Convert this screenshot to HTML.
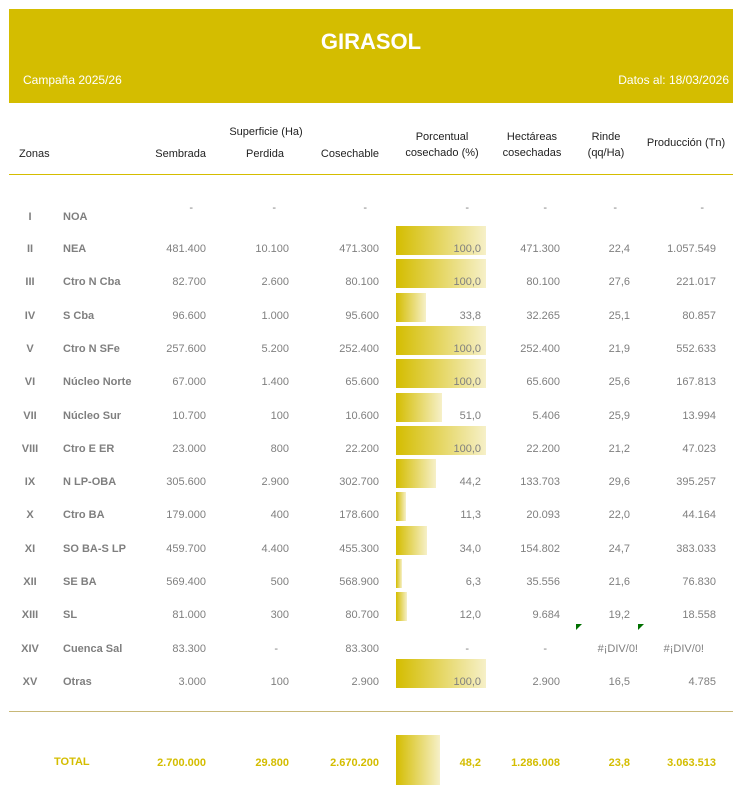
<!DOCTYPE html>
<html><head><meta charset="utf-8"><style>
body{margin:0;width:739px;height:785px;background:#fff;position:relative;font-family:"Liberation Sans",sans-serif;overflow:hidden}
.b{position:absolute;left:9px;top:9px;width:724px;height:94px;background:#d4bd00;color:#fff}
.t{position:absolute;white-space:nowrap;font-size:11px;color:#7f7f7f;line-height:12px}
.h{color:#222}
.r{text-align:right}
.c{text-align:center}
.z{font-weight:bold}
.bar{position:absolute;left:396px;height:29px;background:linear-gradient(90deg,#d4bd00,#f6f0c8)}
.ln{position:absolute;left:9px;width:724px;height:1px}
.y{color:#d4bd00;font-weight:bold}
.tri{position:absolute;width:0;height:0;border-top:6px solid #007000;border-right:6px solid transparent}
</style></head><body>
<div class="b">
<div style="position:absolute;left:0;width:724px;top:20px;text-align:center;font-size:22px;font-weight:bold">GIRASOL</div>
<div style="position:absolute;left:14px;top:64px;font-size:12px">Campaña 2025/26</div>
<div style="position:absolute;right:4px;top:64px;font-size:12px">Datos al: 18/03/2026</div>
</div>
<div class="t h" style="left:19px;top:148px">Zonas</div>
<div class="t h c" style="left:216px;width:100px;top:126px">Superficie (Ha)</div>
<div class="t h r" style="left:100px;width:106px;top:148px">Sembrada</div>
<div class="t h c" style="left:225px;width:80px;top:148px">Perdida</div>
<div class="t h r" style="left:279px;width:100px;top:148px">Cosechable</div>
<div class="t h c" style="left:392px;width:100px;top:129px;line-height:16px">Porcentual<br>cosechado (%)</div>
<div class="t h c" style="left:492px;width:80px;top:129px;line-height:16px">Hectáreas<br>cosechadas</div>
<div class="t h c" style="left:576px;width:60px;top:129px;line-height:16px">Rinde<br>(qq/Ha)</div>
<div class="t h c" style="left:636px;width:100px;top:137px">Producción (Tn)</div>
<div class="ln" style="top:174px;background:#d4bd00"></div>
<div class="ln" style="top:711px;background:#c8b878"></div>

<div id="rows"></div>
<script>
const R=[
["I","NOA","-","-","-",null,"-","-","-","-"],
["II","NEA","481.400","10.100","471.300",100,"100,0","471.300","22,4","1.057.549"],
["III","Ctro N Cba","82.700","2.600","80.100",100,"100,0","80.100","27,6","221.017"],
["IV","S Cba","96.600","1.000","95.600",33.8,"33,8","32.265","25,1","80.857"],
["V","Ctro N SFe","257.600","5.200","252.400",100,"100,0","252.400","21,9","552.633"],
["VI","Núcleo Norte","67.000","1.400","65.600",100,"100,0","65.600","25,6","167.813"],
["VII","Núcleo Sur","10.700","100","10.600",51,"51,0","5.406","25,9","13.994"],
["VIII","Ctro E ER","23.000","800","22.200",100,"100,0","22.200","21,2","47.023"],
["IX","N LP-OBA","305.600","2.900","302.700",44.2,"44,2","133.703","29,6","395.257"],
["X","Ctro BA","179.000","400","178.600",11.3,"11,3","20.093","22,0","44.164"],
["XI","SO BA-S LP","459.700","4.400","455.300",34,"34,0","154.802","24,7","383.033"],
["XII","SE BA","569.400","500","568.900",6.3,"6,3","35.556","21,6","76.830"],
["XIII","SL","81.000","300","80.700",12,"12,0","9.684","19,2","18.558"],
["XIV","Cuenca Sal","83.300","-","83.300",null,"-","-","#¡DIV/0!","#¡DIV/0!"],
["XV","Otras","3.000","100","2.900",100,"100,0","2.900","16,5","4.785"]];
let h="";
const right=[206,289,379,481,560,630,716];
R.forEach((r,i)=>{
 const y=243+(i-1)*33.3; let ty=y;
 if(r[5]!==null) h+=`<div class="bar" style="top:${y-17}px;width:${Math.max(r[5]*0.9,4)}px"></div>`;
 const nt=i==0?y+1:y; const vt=i==0?y-8:y;
 h+=`<div class="t z c" style="left:15px;width:30px;top:${nt}px">${r[0]}</div>`;
 h+=`<div class="t z" style="left:63px;top:${nt}px">${r[1]}</div>`;
 [r[2],r[3],r[4],r[6],r[7],r[8],r[9]].forEach((v,k)=>{
  let rr=right[k]; if(v=="-"&&k>=1&&k<=2&&i>0) rr=right[k]-10;
  if(v=="-"&&i==0){rr=[193,276,367,469,547,617,704][k];}
  if(v=="-"&&i==13){rr=[0,278,0,469,547][k]||rr;}
  if(v.startsWith("#"))rr=k==5?638:704;
  h+=`<div class="t r" style="left:${rr-100}px;width:100px;top:${vt}px">${v}</div>`;
 });
});
h+=`<div class="tri" style="left:576px;top:624px"></div><div class="tri" style="left:638px;top:624px"></div>`;
h+=`<div class="bar" style="top:735px;height:50px;width:44px"></div>`;
const T=["2.700.000","29.800","2.670.200","48,2","1.286.008","23,8","3.063.513"];
h+=`<div class="t y" style="left:54px;top:756px">TOTAL</div>`;
T.forEach((v,k)=>{h+=`<div class="t r y" style="left:${right[k]-100}px;width:100px;top:757px">${v}</div>`});
document.getElementById("rows").innerHTML=h;
</script>
</body></html>
